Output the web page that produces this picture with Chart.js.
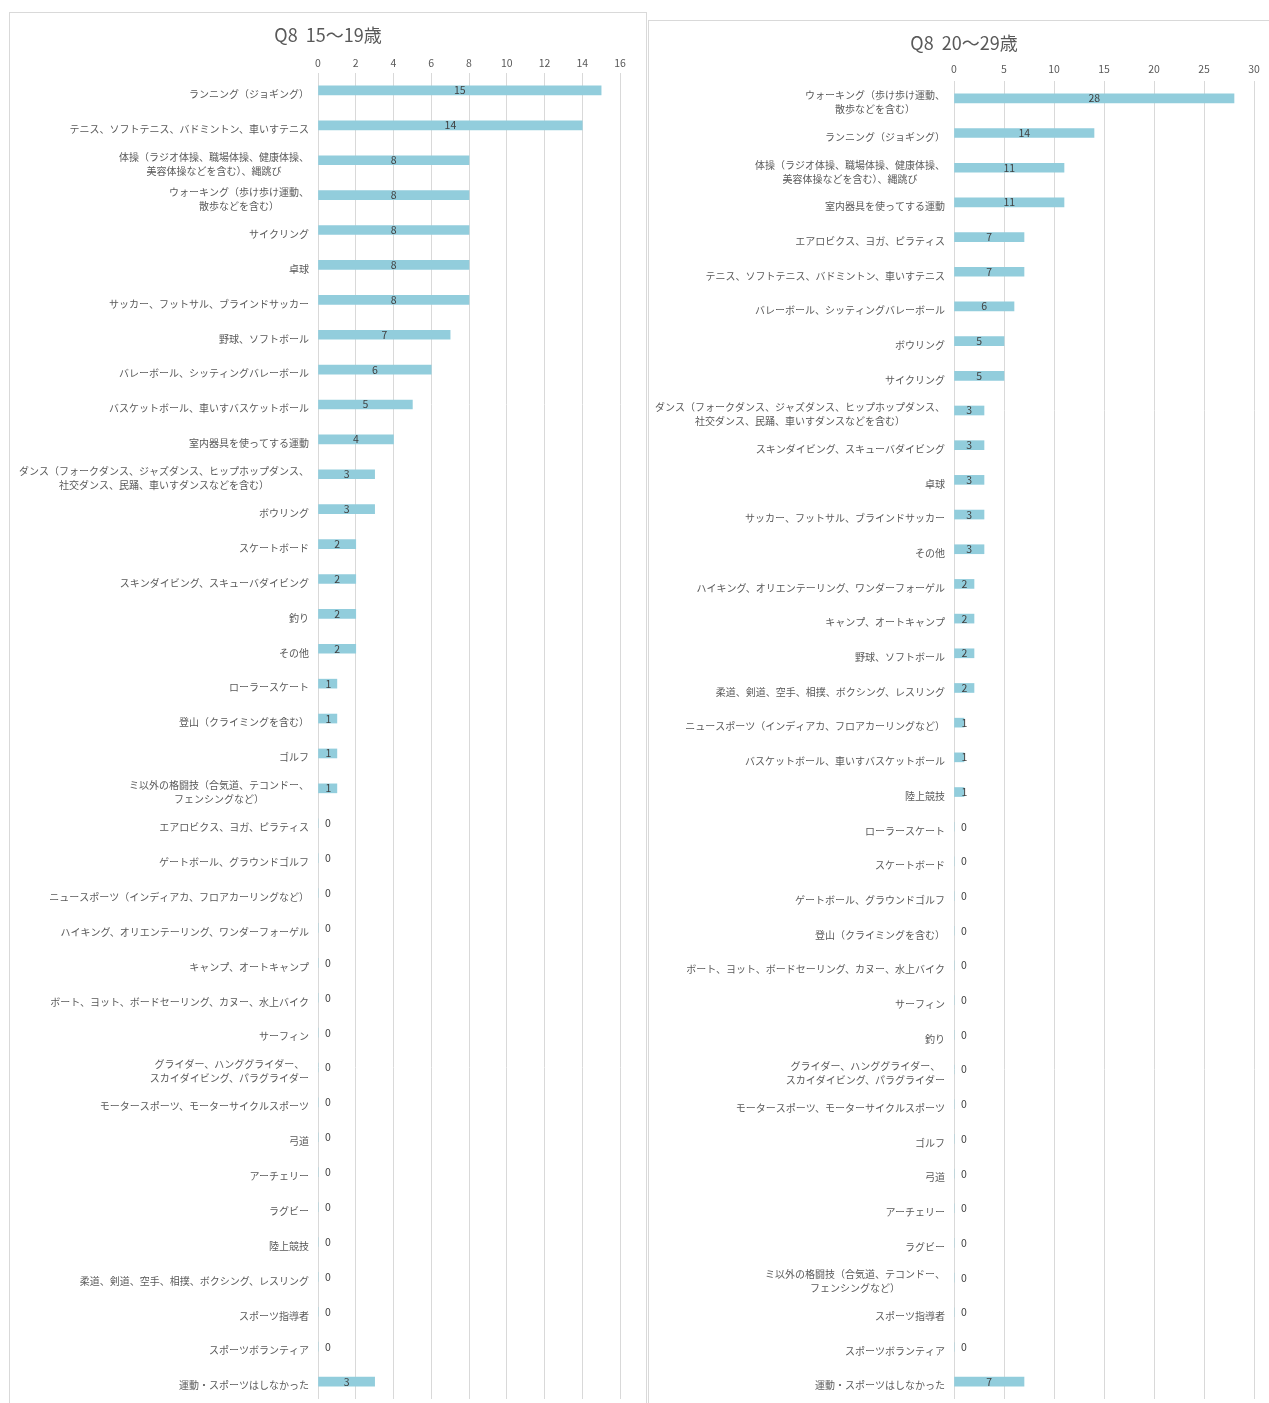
<!DOCTYPE html>
<html lang="ja">
<head>
    <meta charset="UTF-8">
    <title>Q8 年代別 運動・スポーツ種目</title>
    <style>
        html, body {
            margin: 0;
            padding: 0;
            background: #fff;
            overflow: hidden;
        }
        .panel {
            position: absolute;
            border: 1px solid #d9d9d9;
            background: #fff;
        }
        #panel1519 {
            left: 9px;
            top: 12px;
            width: 636px;
            height: 1420px;
        }
        #panel2029 {
            left: 648px;
            top: 20px;
            width: 630px;
            height: 1420px;
        }
        .chartBox {
            position: absolute;
            left: 0;
            top: 0;
            width: 100%;
        }
        #panel1519 .chartBox { height: 1386px; }
        #panel2029 .chartBox { height: 1378px; }
    </style>
    <script src="https://cdn.jsdelivr.net/npm/chart.js"></script>
</head>
<body>
    <div class="panel" id="panel1519">
        <div class="chartBox"><canvas id="chart1519"></canvas></div>
    </div>
    <div class="panel" id="panel2029">
        <div class="chartBox"><canvas id="chart2029"></canvas></div>
    </div>

    <script>
        // 15〜19歳
        const labels1519 = [
            'ランニング（ジョギング）',
            'テニス、ソフトテニス、バドミントン、車いすテニス',
            ['体操（ラジオ体操、職場体操、健康体操、', '美容体操などを含む）、縄跳び'],
            ['ウォーキング（歩け歩け運動、', '散歩などを含む）'],
            'サイクリング',
            '卓球',
            'サッカー、フットサル、ブラインドサッカー',
            '野球、ソフトボール',
            'バレーボール、シッティングバレーボール',
            'バスケットボール、車いすバスケットボール',
            '室内器具を使ってする運動',
            ['ダンス（フォークダンス、ジャズダンス、ヒップホップダンス、', '社交ダンス、民踊、車いすダンスなどを含む）'],
            'ボウリング',
            'スケートボード',
            'スキンダイビング、スキューバダイビング',
            '釣り',
            'その他',
            'ローラースケート',
            '登山（クライミングを含む）',
            'ゴルフ',
            ['ミ以外の格闘技（合気道、テコンドー、', 'フェンシングなど）'],
            'エアロビクス、ヨガ、ピラティス',
            'ゲートボール、グラウンドゴルフ',
            'ニュースポーツ（インディアカ、フロアカーリングなど）',
            'ハイキング、オリエンテーリング、ワンダーフォーゲル',
            'キャンプ、オートキャンプ',
            'ボート、ヨット、ボードセーリング、カヌー、水上バイク',
            'サーフィン',
            ['グライダー、ハンググライダー、', 'スカイダイビング、パラグライダー'],
            'モータースポーツ、モーターサイクルスポーツ',
            '弓道',
            'アーチェリー',
            'ラグビー',
            '陸上競技',
            '柔道、剣道、空手、相撲、ボクシング、レスリング',
            'スポーツ指導者',
            'スポーツボランティア',
            '運動・スポーツはしなかった'
        ];
        const values1519 = [15, 14, 8, 8, 8, 8, 8, 7, 6, 5, 4, 3, 3, 2, 2, 2, 2, 1, 1, 1, 1,
                            0, 0, 0, 0, 0, 0, 0, 0, 0, 0, 0, 0, 0, 0, 0, 0, 3];
        const axisMax1519 = 16;
        const axisStep1519 = 2;

        // 20〜29歳
        const labels2029 = [
            ['ウォーキング（歩け歩け運動、', '散歩などを含む）'],
            'ランニング（ジョギング）',
            ['体操（ラジオ体操、職場体操、健康体操、', '美容体操などを含む）、縄跳び'],
            '室内器具を使ってする運動',
            'エアロビクス、ヨガ、ピラティス',
            'テニス、ソフトテニス、バドミントン、車いすテニス',
            'バレーボール、シッティングバレーボール',
            'ボウリング',
            'サイクリング',
            ['ダンス（フォークダンス、ジャズダンス、ヒップホップダンス、', '社交ダンス、民踊、車いすダンスなどを含む）'],
            'スキンダイビング、スキューバダイビング',
            '卓球',
            'サッカー、フットサル、ブラインドサッカー',
            'その他',
            'ハイキング、オリエンテーリング、ワンダーフォーゲル',
            'キャンプ、オートキャンプ',
            '野球、ソフトボール',
            '柔道、剣道、空手、相撲、ボクシング、レスリング',
            'ニュースポーツ（インディアカ、フロアカーリングなど）',
            'バスケットボール、車いすバスケットボール',
            '陸上競技',
            'ローラースケート',
            'スケートボード',
            'ゲートボール、グラウンドゴルフ',
            '登山（クライミングを含む）',
            'ボート、ヨット、ボードセーリング、カヌー、水上バイク',
            'サーフィン',
            '釣り',
            ['グライダー、ハンググライダー、', 'スカイダイビング、パラグライダー'],
            'モータースポーツ、モーターサイクルスポーツ',
            'ゴルフ',
            '弓道',
            'アーチェリー',
            'ラグビー',
            ['ミ以外の格闘技（合気道、テコンドー、', 'フェンシングなど）'],
            'スポーツ指導者',
            'スポーツボランティア',
            '運動・スポーツはしなかった'
        ];
        const values2029 = [28, 14, 11, 11, 7, 7, 6, 5, 5, 3, 3, 3, 3, 3, 2, 2, 2, 2, 1, 1, 1,
                            0, 0, 0, 0, 0, 0, 0, 0, 0, 0, 0, 0, 0, 0, 0, 0, 7];
        const axisMax2029 = 30;
        const axisStep2029 = 5;

        const FONT = '"Noto Sans CJK JP", "Noto Sans", sans-serif';
        const BAR_COLOR = '#92cddc';
        const GRID_COLOR = '#d9d9d9';
        const TEXT_COLOR = '#595959';

        // title centred on the whole canvas, category names (multi-line ones
        // centred on themselves, block right-aligned) and the value of every bar
        const barText = {
            id: 'barText',
            afterDraw(chart, args, opts) {
                const ctx = chart.ctx;
                const xs = chart.scales.x;
                const ys = chart.scales.y;
                ctx.save();
                ctx.textBaseline = 'middle';

                ctx.font = '18px ' + FONT;
                ctx.fillStyle = TEXT_COLOR;
                ctx.textAlign = 'center';
                ctx.fillText(opts.title, chart.width / 2, 22);

                ctx.font = '10px ' + FONT;
                chart.data.labels.forEach((label, i) => {
                    const lines = Array.isArray(label) ? label : [label];
                    const widest = Math.max(...lines.map(l => ctx.measureText(l).width));
                    const cx = xs.left - opts.gap - widest / 2;
                    const cy = ys.getPixelForTick(i) + opts.shift;
                    lines.forEach((line, j) => {
                        ctx.fillText(line, cx, cy + (j - (lines.length - 1) / 2) * 14);
                    });
                });

                ctx.font = '10.5px ' + FONT;
                ctx.fillStyle = '#404040';
                const data = chart.data.datasets[0].data;
                chart.getDatasetMeta(0).data.forEach((bar, i) => {
                    // short bars keep their number just clear of the axis
                    const cx = Math.max((bar.x + bar.base) / 2, bar.base + 10);
                    ctx.fillText(String(data[i]), cx, bar.y);
                });
                ctx.restore();
            }
        };

        function makeChart(canvasId, title, labels, values, axisMax, axisStep, leftWidth, padRight, tickPad) {
            const ctx = document.getElementById(canvasId).getContext('2d');
            return new Chart(ctx, {
                type: 'bar',
                data: {
                    labels: labels,
                    datasets: [{
                        data: values,
                        backgroundColor: BAR_COLOR,
                        borderWidth: 0,
                        barThickness: 9
                    }]
                },
                options: {
                    indexAxis: 'y',
                    responsive: true,
                    maintainAspectRatio: false,
                    animation: false,
                    layout: { padding: { left: 0, right: padRight, top: 32, bottom: 0 } },
                    scales: {
                        x: {
                            position: 'top',
                            min: 0,
                            max: axisMax,
                            ticks: {
                                stepSize: axisStep,
                                color: TEXT_COLOR,
                                font: { family: FONT, size: 10.5 },
                                padding: tickPad,
                                maxRotation: 0
                            },
                            grid: { color: GRID_COLOR, lineWidth: 1, drawTicks: false },
                            border: { display: false },
                            afterFit: s => { s.height = 28; }
                        },
                        y: {
                            ticks: { display: false },
                            grid: { display: false },
                            border: { display: false },
                            afterFit: s => { s.width = leftWidth; }
                        }
                    },
                    plugins: {
                        legend: { display: false },
                        tooltip: { enabled: false },
                        barText: { title: title, gap: 9, shift: 4 }
                    }
                },
                plugins: [barText]
            });
        }

        makeChart('chart1519', 'Q8  15〜19歳', labels1519, values1519, axisMax1519, axisStep1519, 308, 26, 4);
        makeChart('chart2029', 'Q8  20〜29歳', labels2029, values2029, axisMax2029, axisStep2029, 305, 25, 6);
    </script>
</body>
</html>
